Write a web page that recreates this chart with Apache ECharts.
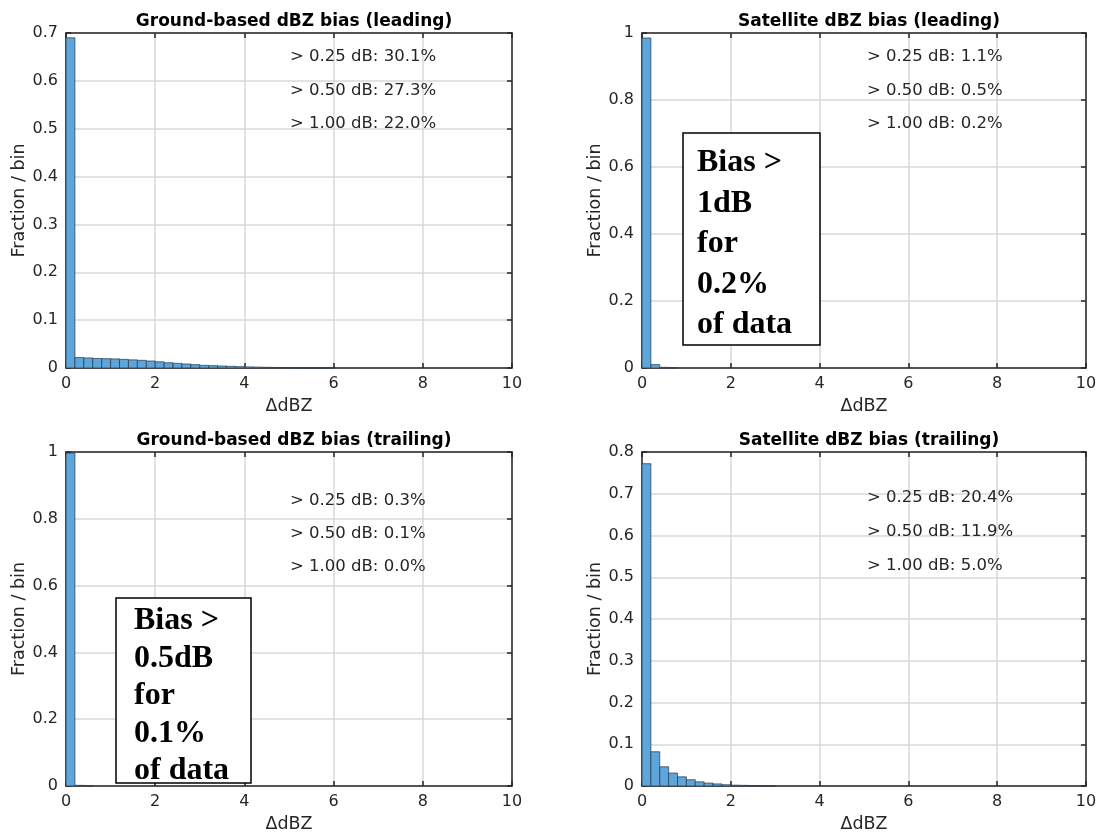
<!DOCTYPE html>
<html>
<head>
<meta charset="utf-8">
<title>dBZ bias histograms</title>
<script src="https://cdn.jsdelivr.net/npm/echarts@6.0.0/dist/echarts.min.js"></script>
<style>
  html, body { margin: 0; padding: 0; background: #ffffff; }
  #main { width: 1101px; height: 832px; }
</style>
</head>
<body>
<div id="main"></div>
<script>
// 直方图数据 (bin 宽 0.2 dB, 从 0 开始)
var binWidth = 0.2;

var groundLeading = [0.690, 0.022, 0.021, 0.020, 0.0195, 0.019, 0.018, 0.017, 0.016, 0.0146,
    0.013, 0.011, 0.0097, 0.0084, 0.007, 0.0056, 0.0049, 0.0042, 0.0035, 0.0028,
    0.0023, 0.0019, 0.0015, 0.0012, 0.0009, 0.0006, 0.0004, 0.0003, 0.0002, 0.0001];
var satLeading = [0.985, 0.010, 0.002, 0.001];
var groundTrailing = [0.997, 0.002, 0.001];
var satTrailing = [0.772, 0.082, 0.046, 0.031, 0.022, 0.015, 0.010, 0.007, 0.005, 0.003,
    0.002, 0.0015, 0.001, 0.0007, 0.0005];

var titles = ['Ground-based dBZ bias (leading)', 'Satellite dBZ bias (leading)',
    'Ground-based dBZ bias (trailing)', 'Satellite dBZ bias (trailing)'];
var yMax = [0.7, 1, 1, 0.8];
var yStep = [0.1, 0.2, 0.2, 0.1];
var stats = [
    ['> 0.25 dB: 30.1%', '> 0.50 dB: 27.3%', '> 1.00 dB: 22.0%'],
    ['> 0.25 dB: 1.1%', '> 0.50 dB: 0.5%', '> 1.00 dB: 0.2%'],
    ['> 0.25 dB: 0.3%', '> 0.50 dB: 0.1%', '> 1.00 dB: 0.0%'],
    ['> 0.25 dB: 20.4%', '> 0.50 dB: 11.9%', '> 1.00 dB: 5.0%']
];
var boxNotes = [null, ['Bias >', '1dB', 'for', '0.2%', 'of data'],
    ['Bias >', '0.5dB', 'for', '0.1%', 'of data'], null];
var allData = [groundLeading, satLeading, groundTrailing, satTrailing];

// 布局
var grids = [
    {left: 66, top: 33, width: 446, height: 335},
    {left: 642, top: 33, width: 444, height: 335},
    {left: 66, top: 452, width: 446, height: 334},
    {left: 642, top: 452, width: 444, height: 334}
];
var yNameGap = [36, 35, 36, 35];
var statPos = [[290, 57], [867, 57], [290, 501], [867, 498]];
var statGap = [33.5, 33.5, 33, 34];
var boxPos = [null, {x: 683, y: 133, w: 137, h: 212, tx: 697, ty: 163, lh: 40.5},
    {x: 116, y: 598, w: 135, h: 185, tx: 134, ty: 621, lh: 37.5}, null];

var font = 'DejaVu Sans';
var axisColor = '#262626';

var option = {
    animation: false,
    backgroundColor: '#ffffff',
    title: [],
    grid: [],
    xAxis: [],
    yAxis: [],
    series: [],
    graphic: []
};

for (var i = 0; i < 4; i++) {
    var g = grids[i];
    option.grid.push({left: g.left, top: g.top, width: g.width, height: g.height,
        containLabel: false, outerBoundsMode: 'none'});
    option.title.push({
        text: titles[i],
        left: g.left + g.width / 2,
        top: g.top - 25,
        textAlign: 'center',
        textStyle: {fontFamily: font, fontWeight: 'bold', fontSize: 17, color: '#000'}
    });
    // 主坐标轴 (下 / 左)
    option.xAxis.push({
        type: 'value', gridIndex: i, min: 0, max: 10, interval: 2,
        name: 'ΔdBZ', nameLocation: 'middle', nameGap: 29,
        nameTextStyle: {fontFamily: font, fontSize: 17.5, color: axisColor},
        axisLine: {show: true, onZero: false, lineStyle: {color: axisColor, width: 1.5}},
        axisTick: {show: true, inside: true, length: 5, lineStyle: {color: axisColor, width: 1.5}},
        axisLabel: {fontFamily: font, fontSize: 16, color: axisColor, margin: 8},
        splitLine: {show: true, lineStyle: {color: '#d8d8d8', width: 1.5}}
    });
    option.yAxis.push({
        type: 'value', gridIndex: i, min: 0, max: yMax[i], interval: yStep[i],
        name: 'Fraction / bin', nameLocation: 'middle', nameGap: yNameGap[i],
        nameTextStyle: {fontFamily: font, fontSize: 17.5, color: axisColor},
        axisLine: {show: true, onZero: false, lineStyle: {color: axisColor, width: 1.5}},
        axisTick: {show: true, inside: true, length: 5, lineStyle: {color: axisColor, width: 1.5}},
        axisLabel: {fontFamily: font, fontSize: 16, color: axisColor, margin: 8},
        splitLine: {show: true, lineStyle: {color: '#d8d8d8', width: 1.5}}
    });
    // 上 / 右 边框和刻度
    option.xAxis.push({
        type: 'value', gridIndex: i, position: 'top', min: 0, max: 10, interval: 2,
        axisLine: {show: true, onZero: false, lineStyle: {color: axisColor, width: 1.5}},
        axisTick: {show: true, inside: true, length: 5, lineStyle: {color: axisColor, width: 1.5}},
        axisLabel: {show: false}, splitLine: {show: false}
    });
    option.yAxis.push({
        type: 'value', gridIndex: i, position: 'right', min: 0, max: yMax[i], interval: yStep[i],
        axisLine: {show: true, onZero: false, lineStyle: {color: axisColor, width: 1.5}},
        axisTick: {show: true, inside: true, length: 5, lineStyle: {color: axisColor, width: 1.5}},
        axisLabel: {show: false}, splitLine: {show: false}
    });

    var rows = allData[i].map(function (v, k) {
        return [k * binWidth, (k + 1) * binWidth, v];
    });
    option.series.push({
        type: 'custom',
        xAxisIndex: i * 2,
        yAxisIndex: i * 2,
        data: rows,
        z: 3,
        renderItem: function (params, api) {
            var p0 = api.coord([api.value(0), api.value(2)]);
            var p1 = api.coord([api.value(1), 0]);
            return {
                type: 'rect',
                shape: {x: p0[0], y: p0[1], width: p1[0] - p0[0], height: p1[1] - p0[1]},
                style: {fill: '#5da5da', stroke: '#24384a', lineWidth: 0.7}
            };
        }
    });

    // 统计文字
    for (var j = 0; j < 3; j++) {
        option.graphic.push({
            type: 'text',
            x: statPos[i][0], y: statPos[i][1] + j * statGap[i],
            style: {text: stats[i][j], font: '16.5px "' + font + '"', fill: '#262626', verticalAlign: 'middle'},
            z: 10
        });
    }

    // 方框注释
    if (boxPos[i]) {
        var b = boxPos[i];
        option.graphic.push({
            type: 'rect',
            shape: {x: b.x, y: b.y, width: b.w, height: b.h},
            style: {fill: '#ffffff', stroke: '#000', lineWidth: 1.5},
            z: 10
        });
        boxNotes[i].forEach(function (line, k) {
            option.graphic.push({
                type: 'text',
                x: b.tx, y: b.ty + k * b.lh,
                style: {text: line, font: 'bold 32px "Liberation Serif"', fill: '#000', verticalAlign: 'middle'},
                z: 11
            });
        });
    }
}

var myChart = echarts.init(document.getElementById('main'));
myChart.setOption(option);
</script>
</body>
</html>
